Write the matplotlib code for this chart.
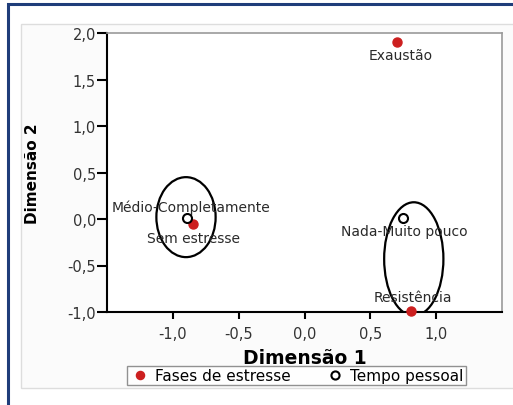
import matplotlib
matplotlib.use("Agg")
import matplotlib.pyplot as plt
from matplotlib.patches import Ellipse, Rectangle
from matplotlib.ticker import FuncFormatter

plt.rcParams['font.family'] = ['DejaVu Sans']

# Fases de estresse (pontos vermelhos)
fases_nomes = ["Exaustão", "Sem estresse", "Resistência"]
fases_x = [0.70, -0.85, 0.81]
fases_y = [1.90, -0.05, -0.99]

# Tempo pessoal (circulos abertos)
tempo_nomes = ["Médio-Completamente", "Nada-Muito pouco"]
tempo_x = [-0.89, 0.75]
tempo_y = [0.01, 0.01]

# elipses que agrupam as categorias: centro x, centro y, largura, altura
elipses = [(-0.90, 0.02, 0.45, 0.86), (0.83, -0.43, 0.45, 1.22)]

x_ticks = [-1.0, -0.5, 0.0, 0.5, 1.0]
y_ticks = [-1.0, -0.5, 0.0, 0.5, 1.0, 1.5, 2.0]

W, H = 513, 406
fig = plt.figure(figsize=(W / 100, H / 100), dpi=100)

# moldura azul e painel cinza de fundo
fig.add_artist(Rectangle((8 / W, -0.1), 1.2, 1 - 5 / H + 0.1, transform=fig.transFigure,
                         fill=False, edgecolor="#1f3d7a", lw=2.2, zorder=-10))
fig.add_artist(Rectangle((21 / W, 1 - 389 / H), 1.0, (389 - 25) / H, transform=fig.transFigure,
                         facecolor="#fbfbfb", edgecolor="#dddddd", lw=1, zorder=-9))

ax = fig.add_axes([107 / W, 1 - 313 / H, 395 / W, 279 / H])
ax.set_facecolor("white")

for cx, cy, w, h in elipses:
    ax.add_patch(Ellipse((cx, cy), w, h, fill=False, edgecolor="black", lw=1.6, zorder=3))

ax.plot(fases_x, fases_y, "o", color="#cc1f1f", ms=6.5, mec="#cc1f1f", zorder=4,
        label="Fases de estresse", clip_on=False)
ax.plot(tempo_x, tempo_y, "o", mfc="white", mec="black", mew=1.5, ms=6.5, zorder=4,
        label="Tempo pessoal", clip_on=False)

lbl = dict(fontsize=10, ha="center", va="center", color="#2a2a2a", zorder=5,
           textcoords="offset points")
offs_fases = [(3, -9), (1, -10), (1, 10)]
for nome, x, y, o in zip(fases_nomes, fases_x, fases_y, offs_fases):
    ax.annotate(nome, (x, y), xytext=o, **lbl)
offs_tempo = [(3, 8), (1, -9)]
for nome, x, y, o in zip(tempo_nomes, tempo_x, tempo_y, offs_tempo):
    ax.annotate(nome, (x, y), xytext=o, **lbl)

ax.set_xlim(-1.5, 1.5)
ax.set_ylim(-1.0, 2.0)
ax.set_xticks(x_ticks)
ax.set_yticks(y_ticks)
fmt = FuncFormatter(lambda v, p: f"{v:.1f}".replace(".", ","))
ax.xaxis.set_major_formatter(fmt)
ax.yaxis.set_major_formatter(fmt)
ax.tick_params(direction="out", length=7, width=1.5, labelsize=10.5, colors="black",
               labelcolor="#333333")
ax.tick_params(axis="x", length=5, pad=5)
ax.tick_params(axis="y", pad=1)

for s in ["left", "bottom"]:
    ax.spines[s].set_linewidth(1.5)
    ax.spines[s].set_color("black")
for s in ["top", "right"]:
    ax.spines[s].set_linewidth(1.2)
    ax.spines[s].set_color("#9a9a9a")

ax.set_xlabel("Dimensão 1", fontsize=13.5, fontweight="bold", labelpad=5)
ax.set_ylabel("Dimensão 2", fontsize=11, fontweight="bold")
ax.yaxis.set_label_coords(-67 / 395, 0.5)

fig.legend(loc="center", bbox_to_anchor=(296.5 / W, 1 - 376.5 / H), ncol=2, fontsize=11,
           frameon=True, fancybox=False, edgecolor="#777777", handlelength=1.4,
           handletextpad=0.3, columnspacing=2.2, borderpad=0.15, borderaxespad=0,
           markerscale=0.9)

fig.savefig("out.png", dpi=100)
